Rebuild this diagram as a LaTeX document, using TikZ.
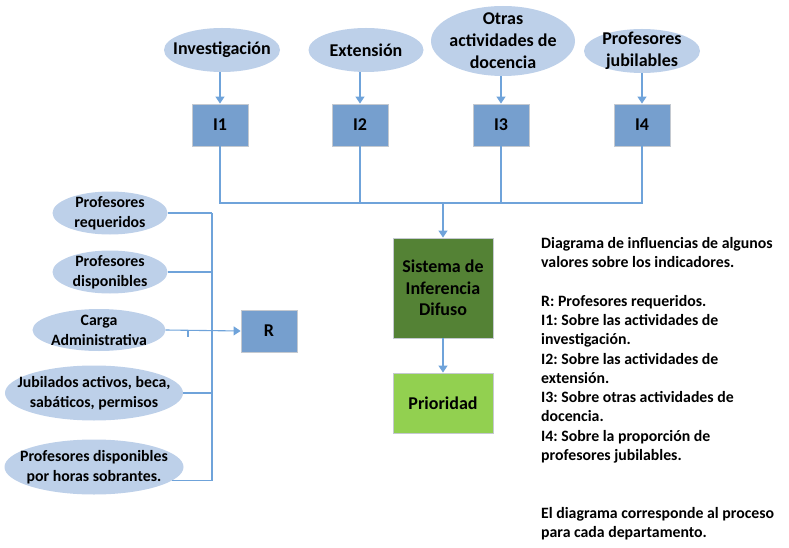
\documentclass[tikz,border=0pt]{standalone}
\usepackage{fontspec}
\setmainfont{Carlito}
\usetikzlibrary{shapes.geometric,arrows.meta}
\definecolor{ellfill}{HTML}{BDD0E9}
\definecolor{boxfill}{HTML}{769FCE}
\definecolor{boxline}{HTML}{C4C9D0}
\definecolor{lineblue}{HTML}{6FA3DA}
\definecolor{darkgreen}{HTML}{548235}
\definecolor{lightgreen}{HTML}{92D050}
\frenchspacing
\begin{document}
\begin{tikzpicture}[x=1pt,y=-1pt,
  ell/.style={ellipse, fill=ellfill, inner sep=0pt},
  biglbl/.style={font=\bfseries\fontsize{18}{22}\selectfont, align=center, inner sep=0pt},
  smalllbl/.style={font=\bfseries\fontsize{15.8}{20}\selectfont, align=center, inner sep=0pt},
  ibox/.style={rectangle, fill=boxfill, draw=boxline, line width=0.8pt, minimum width=56pt, minimum height=42pt, inner sep=0pt, font=\bfseries\fontsize{18}{20}\selectfont},
  conn/.style={draw=lineblue, line width=1.1pt},
  arr/.style={conn, -{Triangle[length=7pt,width=9pt]}},
]
\useasboundingbox (0,0) rectangle (789,548);

% top ellipses
\node[ell, minimum width=116pt, minimum height=44pt, label={[biglbl]center:Investigación}] (e1) at (222,50) {};
\node[ell, minimum width=115pt, minimum height=44pt, label={[biglbl]center:Extensión}] (e2) at (366,50) {};
\node[ell, minimum width=144pt, minimum height=70pt, label={[biglbl]center:Otras\\actividades de\\docencia}] (e3) at (503,41) {};
\node[ell, minimum width=116pt, minimum height=44pt, label={[biglbl]center:Profesores\\jubilables}] (e4) at (642,51) {};

% indicator boxes
\node[ibox] (i1) at (220,125) {I1};
\node[ibox] (i2) at (360,125) {I2};
\node[ibox] (i3) at (501,125) {I3};
\node[ibox] (i4) at (642,125) {I4};

\draw[arr] (e1.south -| i1.north) -- (i1.north);
\draw[arr] (e2.south -| i2.north) -- (i2.north);
\draw[arr] (e3.south -| i3.north) -- (i3.north);
\draw[arr] (e4.south -| i4.north) -- (i4.north);

% bus
\coordinate (bus) at (0,203);
\draw[conn] (i1.south) -- (i1.south |- bus) -- (i4.south |- bus) -- (i4.south);
\draw[conn] (i2.south) -- (i2.south |- bus);
\draw[conn] (i3.south) -- (i3.south |- bus);

% fuzzy system and priority
\node[rectangle, fill=darkgreen, draw=boxline, line width=0.8pt, minimum width=100pt, minimum height=100pt, inner sep=0pt, font=\bfseries\fontsize{18}{21.5}\selectfont, align=center] (sis) at (443,288) {Sistema de\\Inferencia\\Difuso};
\node[rectangle, fill=lightgreen, draw=boxline, line width=0.8pt, minimum width=100pt, minimum height=60pt, inner sep=0pt, font=\bfseries\fontsize{18}{20}\selectfont] (pri) at (443,403) {Prioridad};
\draw[arr] (sis.north |- bus) -- (sis.north);
\draw[arr] (sis.south) -- (pri.north);

% left ellipses
\node[ell, minimum width=115pt, minimum height=43pt, label={[smalllbl]center:Profesores\\requeridos}] (p1) at (110,213) {};
\node[ell, minimum width=115pt, minimum height=43pt, label={[smalllbl]center:Profesores\\disponibles}] (p2) at (110,272) {};
\node[ell, minimum width=133pt, minimum height=42pt, label={[smalllbl]center:Carga\\Administrativa}] (p3) at (99,330) {};
\node[ell, minimum width=178pt, minimum height=55pt, label={[smalllbl]center:Jubilados activos, beca,\\sabáticos, permisos}] (p4) at (94,393) {};
\node[ell, minimum width=179pt, minimum height=55pt, label={[smalllbl]center:Profesores disponibles\\por horas sobrantes.}] (p5) at (94,467) {};

\node[ibox] (r) at (269,331) {R};

\coordinate (bar) at (212,0);
\coordinate (tick) at (188,331);
\draw[conn] (p1.east) -- (p1.east -| bar);
\draw[conn] (p2.east) -- (p2.east -| bar);
\draw[conn] (p4.east) -- (p4.east -| bar);
\draw[conn] (p5.-10) -- (p5.-10 -| bar);
\draw[conn] (p1.east -| bar) -- (p5.-10 -| bar);
\draw[arr] (p3.east) -- (r.west);
\draw[conn] (tick) -- ++(0,6);

% description text
\node[anchor=north west, inner sep=0pt, align=left, font=\bfseries\fontsize{15.8}{19.3}\selectfont] (desc) at (541,237) {Diagrama de influencias de algunos\\
valores sobre los indicadores.\\
\mbox{}\\
R: Profesores requeridos.\\
I1: Sobre las actividades de\\
investigación.\\
I2: Sobre las actividades de\\
extensión.\\
I3: Sobre otras actividades de\\
docencia.\\
I4: Sobre la proporción de\\
profesores jubilables.\\
\mbox{}\\
\mbox{}\\
El diagrama corresponde al proceso\\
para cada departamento.};
\end{tikzpicture}
\end{document}
